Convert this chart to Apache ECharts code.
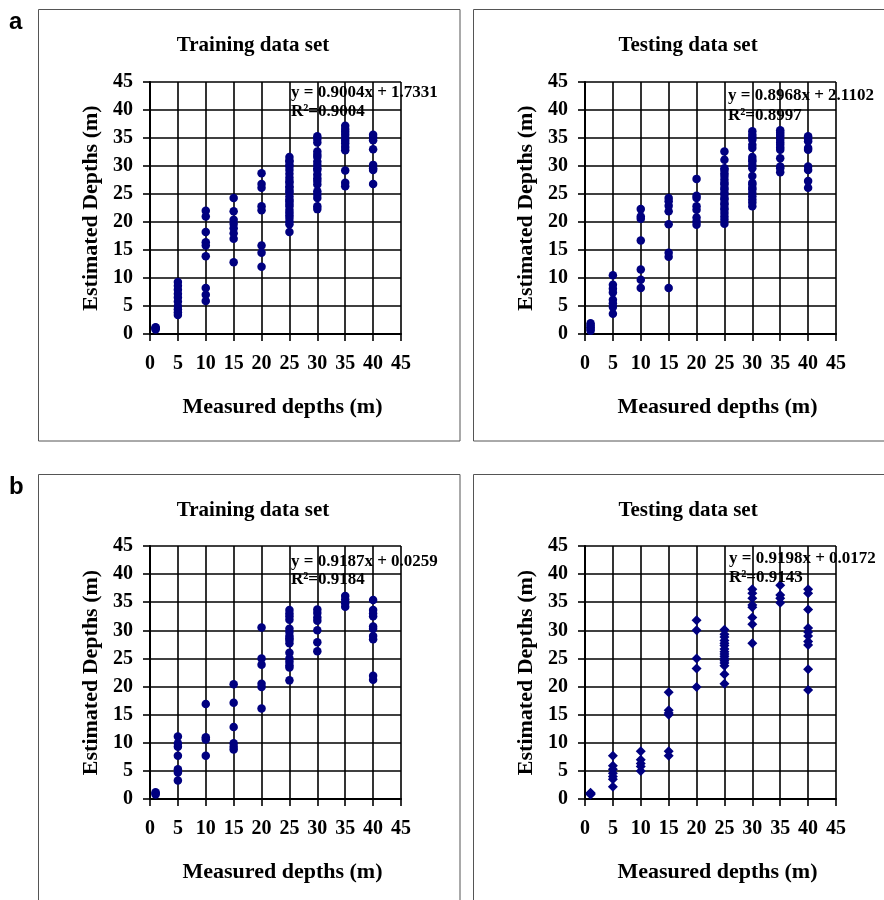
<!DOCTYPE html>
<html><head><meta charset="utf-8">
<script src="https://cdn.jsdelivr.net/npm/echarts@6/dist/echarts.min.js"></script>
<style>html,body{margin:0;padding:0;background:#fff}#c{width:884px;height:900px}</style>
</head><body><div id="c"></div>
<script>
// Measured depth columns (x values, m)
const measuredDepths = [1, 5, 10, 15, 20, 25, 30, 35, 40];
const axisTicks = [0, 5, 10, 15, 20, 25, 30, 35, 40, 45];

// (a) Training data set – estimated depths per measured-depth column
const aTrainEst = [
  [0.8, 1.0, 1.1, 1.2],
  [9.3, 8.6, 7.9, 7.2, 6.5, 5.8, 5.0, 4.4, 3.9, 3.4],
  [22.0, 21.0, 18.2, 16.4, 15.8, 13.9, 8.2, 7.0, 5.9],
  [24.3, 21.9, 20.4, 19.7, 18.9, 18.0, 17.0, 12.8],
  [28.7, 26.8, 26.1, 22.8, 22.1, 15.8, 14.5, 12.0],
  [31.6, 31.0, 30.8, 30.2, 29.9, 29.3, 28.6, 27.9, 27.3, 27.0, 26.4, 26.1, 25.6, 25.3, 24.6, 24.0, 23.7, 23.2, 22.8, 22.2, 21.7, 21.2, 20.7, 20.1, 19.6, 18.2],
  [35.3, 34.8, 34.2, 32.6, 32.0, 31.6, 30.8, 30.2, 29.6, 29.3, 28.5, 27.8, 27.3, 26.7, 25.5, 24.9, 24.3, 22.8, 22.3],
  [37.2, 36.6, 36.1, 35.6, 35.0, 34.5, 34.0, 33.4, 32.8, 29.2, 27.0, 26.4],
  [35.6, 35.1, 34.6, 33.0, 30.2, 29.6, 29.3, 26.8]
];
// (a) Testing data set
const aTestEst = [
  [0.6, 0.9, 1.2, 1.5, 1.9],
  [10.5, 8.8, 8.1, 7.4, 6.1, 5.5, 4.8, 3.6],
  [22.3, 21.0, 20.6, 16.7, 11.5, 9.7, 8.2],
  [24.3, 23.7, 22.9, 21.9, 19.6, 14.5, 13.8, 8.2],
  [27.7, 24.7, 24.3, 22.8, 22.2, 20.8, 20.1, 19.5],
  [32.6, 31.1, 29.6, 29.3, 28.7, 28.2, 27.6, 27.0, 26.7, 26.1, 25.8, 25.2, 24.9, 24.3, 24.0, 23.4, 23.1, 22.5, 22.2, 21.6, 21.0, 20.4, 19.7],
  [36.2, 35.6, 35.1, 34.7, 33.8, 33.2, 31.6, 31.1, 30.8, 30.2, 29.6, 28.2, 27.0, 26.7, 26.1, 25.8, 25.2, 24.6, 24.0, 23.5, 22.8],
  [36.4, 36.0, 35.6, 35.2, 34.7, 34.2, 33.8, 33.3, 32.9, 31.4, 29.9, 29.6, 28.9],
  [35.3, 34.8, 34.4, 33.2, 32.9, 29.9, 29.3, 27.3, 26.1]
];
// (b) Training data set
const bTrainEst = [
  [0.8, 1.0, 1.2],
  [11.1, 9.9, 9.3, 7.7, 5.3, 4.7, 3.3],
  [16.9, 11.0, 10.6, 7.7],
  [20.4, 17.1, 12.8, 9.9, 9.3, 8.8],
  [30.5, 25.0, 23.9, 20.5, 19.9, 16.1],
  [33.6, 33.0, 32.5, 31.9, 30.3, 29.7, 29.0, 28.6, 28.3, 27.7, 26.0, 25.0, 24.4, 23.8, 23.4, 21.1],
  [33.7, 33.1, 32.3, 31.7, 30.0, 27.9, 26.3],
  [36.1, 35.5, 34.8, 34.2],
  [35.4, 33.6, 33.0, 32.5, 30.7, 30.3, 29.0, 28.4, 21.9, 21.2]
];
// (b) Testing data set
const bTestEst = [
  [0.8, 0.9, 1.0, 1.1],
  [7.7, 5.9, 5.3, 4.6, 4.0, 3.5, 2.2],
  [8.5, 7.0, 6.3, 5.8, 5.0],
  [19.0, 15.8, 15.3, 15.0, 8.5, 7.7],
  [31.8, 30.0, 25.0, 23.2, 19.9],
  [30.1, 29.3, 28.8, 28.2, 27.7, 27.3, 26.7, 26.2, 25.8, 25.4, 25.0, 24.6, 24.2, 23.7, 22.2, 20.5],
  [37.3, 36.6, 35.7, 34.5, 34.1, 32.3, 31.1, 27.7],
  [38.0, 36.3, 35.7, 34.9],
  [37.3, 36.6, 33.7, 30.4, 29.7, 29.0, 28.0, 27.4, 23.1, 19.4]
];

const panelTitles = ['Training data set', 'Testing data set', 'Training data set', 'Testing data set'];
const equations = ['y = 0.9004x + 1.7331', 'y = 0.8968x + 2.1102', 'y = 0.9187x + 0.0259', 'y = 0.9198x + 0.0172'];
const rSquared = ['R²=0.9004', 'R²=0.8997', 'R²=0.9184', 'R²=0.9143'];
const panelLetters = ['a', 'b'];
const xName = 'Measured depths (m)';
const yName = 'Estimated Depths (m)';

const panelSets = [aTrainEst, aTestEst, bTrainEst, bTestEst];
const symbols = ['circle', 'circle', 'circle', 'diamond'];

const grids = [
  {left: 150, top: 82, width: 251, height: 252},
  {left: 585, top: 82, width: 251, height: 252},
  {left: 150, top: 546, width: 251, height: 253},
  {left: 585, top: 546, width: 251, height: 253}
];
const boxes = [
  {x: 38.5, y: 9.5, w: 421.5, h: 431.5},
  {x: 473.5, y: 9.5, w: 430, h: 431.5},
  {x: 38.5, y: 474.5, w: 421.5, h: 440},
  {x: 473.5, y: 474.5, w: 430, h: 440}
];
const titlePos = [{x: 253, y: 46}, {x: 688, y: 46}, {x: 253, y: 511}, {x: 688, y: 511}];
const eqPos = [
  {x: 291, y1: 93, y2: 112},
  {x: 728, y1: 96, y2: 116},
  {x: 291, y1: 562, y2: 580},
  {x: 729, y1: 559, y2: 578}
];

const serif = '"Liberation Serif", "Times New Roman", serif';
const lineCol = '#000';

function axisCommon() {
  return {
    min: 0, max: 45, interval: 5,
    axisLine: {show: true, onZero: false, lineStyle: {color: lineCol, width: 2}},
    axisTick: {show: true, inside: false, length: 7, lineStyle: {color: lineCol, width: 1.6}},
    splitLine: {show: true, lineStyle: {color: lineCol, width: 1.6}},
    axisLabel: {color: '#000', fontFamily: serif, fontWeight: 'bold', fontSize: 20},
    nameTextStyle: {color: '#000', fontFamily: serif, fontWeight: 'bold', fontSize: 22}
  };
}

const xAxes = [], yAxes = [], series = [], graphics = [];
grids.forEach((g, i) => {
  const xa = axisCommon();
  Object.assign(xa, {type: 'value', gridIndex: i, name: xName, nameLocation: 'middle', nameGap: 62});
  xa.axisLabel = Object.assign({}, xa.axisLabel, {margin: 20});
  xa.nameTextStyle = Object.assign({}, xa.nameTextStyle, {padding: [0, 0, 0, 14]});
  xAxes.push(xa);
  const ya = axisCommon();
  Object.assign(ya, {type: 'value', gridIndex: i, name: yName, nameLocation: 'middle', nameGap: 48, nameRotate: 90});
  ya.axisLabel = Object.assign({}, ya.axisLabel, {margin: 17});
  yAxes.push(ya);
  const data = [];
  panelSets[i].forEach((col, k) => col.forEach(v => data.push([measuredDepths[k], v])));
  series.push({
    type: 'scatter', xAxisIndex: i, yAxisIndex: i, data: data,
    symbol: symbols[i], symbolSize: symbols[i] === 'diamond' ? 10 : 8.5,
    itemStyle: {color: '#000080', opacity: 1}, z: 5, silent: true
  });
  const b = boxes[i];
  graphics.push({type: 'rect', shape: {x: b.x, y: b.y, width: b.w, height: b.h},
    style: {fill: null, stroke: '#555', lineWidth: 1}, z: 0, silent: true});
  graphics.push({type: 'text', x: titlePos[i].x, y: titlePos[i].y,
    style: {text: panelTitles[i], fill: '#000', font: 'bold 21px ' + serif, textAlign: 'center', textVerticalAlign: 'middle'}, z: 10});
  const e = eqPos[i];
  graphics.push({type: 'text', x: e.x, y: e.y1,
    style: {text: equations[i], fill: '#000', font: 'bold 17px ' + serif, textAlign: 'left', textVerticalAlign: 'middle'}, z: 10});
  graphics.push({type: 'text', x: e.x, y: e.y2,
    style: {text: rSquared[i], fill: '#000', font: 'bold 17px ' + serif, textAlign: 'left', textVerticalAlign: 'middle'}, z: 10});
});
graphics.push({type: 'text', x: 9, y: 22, style: {text: panelLetters[0], fill: '#000', font: 'bold 24px "Liberation Sans", Arial, sans-serif', textVerticalAlign: 'middle'}});
graphics.push({type: 'text', x: 9, y: 487, style: {text: panelLetters[1], fill: '#000', font: 'bold 24px "Liberation Sans", Arial, sans-serif', textVerticalAlign: 'middle'}});

const chart = echarts.init(document.getElementById('c'), null, {renderer: 'canvas'});
chart.setOption({
  animation: false,
  backgroundColor: '#fff',
  grid: grids.map(g => Object.assign({containLabel: false, show: false}, g)),
  xAxis: xAxes,
  yAxis: yAxes,
  series: series,
  graphic: graphics
});
</script></body></html>
